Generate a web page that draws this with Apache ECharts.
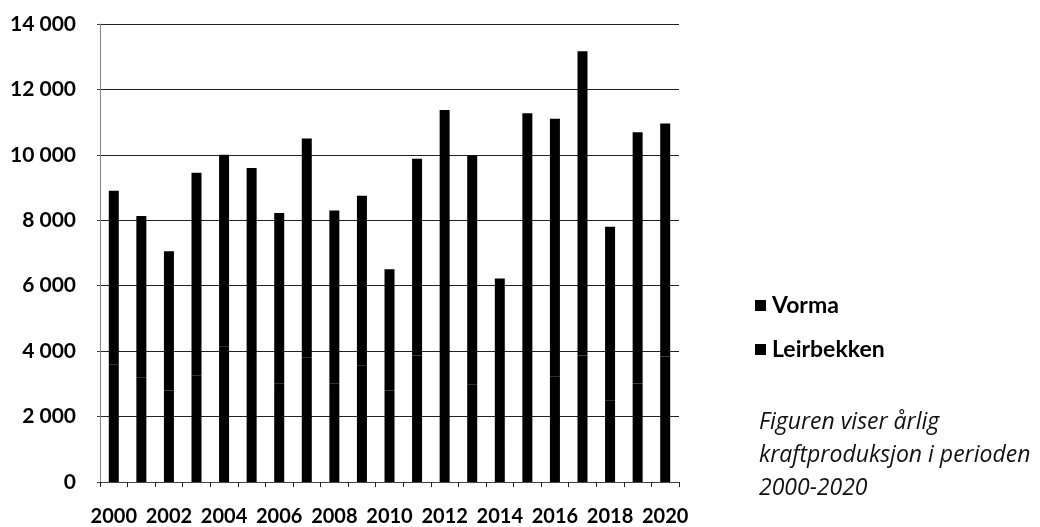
<!DOCTYPE html>
<html>
<head>
<meta charset="utf-8">
<script src="https://cdn.jsdelivr.net/npm/echarts@6/dist/echarts.min.js"></script>
<style>
html,body{margin:0;padding:0;background:#fff;}
#c{width:1040px;height:527px;}
</style>
</head>
<body>
<div id="c"></div>
<script>
var years = ['2000','2001','2002','2003','2004','2005','2006','2007','2008','2009','2010','2011','2012','2013','2014','2015','2016','2017','2018','2019','2020'];
var leirbekken = [3600,3200,2800,3250,4150,3700,3000,3800,3000,3550,2800,3870,3670,2990,1040,3330,3230,3870,2500,3010,3840];
var vorma = [5300,4930,4250,6200,5850,5900,5220,6700,5300,5200,3700,6010,7700,6990,5180,7940,7870,9300,5300,7680,7120];
var yTicks = {min:0, max:14000, interval:2000};
var caption = 'Figuren viser årlig\nkraftproduksjon i perioden\n2000-2020';

var chart = echarts.init(document.getElementById('c'));
var fontFam = 'Lato, "Open Sans", sans-serif';
chart.setOption({
  animation:false,
  backgroundColor:'#fff',
  grid:{left:100, right:361, top:24, bottom:41, containLabel:false},
  title:{
    text:caption, left:754, top:401,
    textStyle:{fontFamily:'"Open Sans", sans-serif', fontStyle:'italic', fontWeight:'normal', fontSize:23, lineHeight:33, color:'#111'}
  },
  legend:{
    orient:'vertical', left:755, top:294, itemGap:21, padding:0,
    icon:'rect', itemWidth:11, itemHeight:11,
    itemStyle:{borderWidth:0, color:'#000'},
    data:['Vorma','Leirbekken'],
    textStyle:{fontFamily:fontFam, fontWeight:'bold', fontSize:23, color:'#000', padding:[0,0,0,1]}
  },
  xAxis:{
    type:'category', data:years, boundaryGap:true,
    axisLine:{lineStyle:{color:'#444', width:1}},
    axisTick:{show:true, interval:0, length:5, lineStyle:{color:'#222'}},
    axisLabel:{interval:1, margin:25, fontFamily:fontFam, fontWeight:'bold', fontSize:20, color:'#000'}
  },
  yAxis:{
    type:'value', min:yTicks.min, max:yTicks.max, interval:yTicks.interval,
    axisLine:{show:true, lineStyle:{color:'#888', width:1}},
    axisTick:{show:true, length:3, lineStyle:{color:'#444'}},
    splitLine:{lineStyle:{color:'#222', width:1.2}},
    axisLabel:{margin:24, fontFamily:fontFam, fontWeight:'bold', fontSize:21, color:'#000',
      formatter:function(v){return String(v).replace(/\B(?=(\d{3})+(?!\d))/g,' ');}}
  },
  series:[
    {name:'Leirbekken', type:'bar', stack:'t', data:leirbekken, barWidth:10,
      itemStyle:{color:'#000', borderColor:'#000', borderWidth:1.5}},
    {name:'Vorma', type:'bar', stack:'t', data:vorma, barWidth:10,
      itemStyle:{color:'#000'}}
  ]
});
</script>
</body>
</html>
